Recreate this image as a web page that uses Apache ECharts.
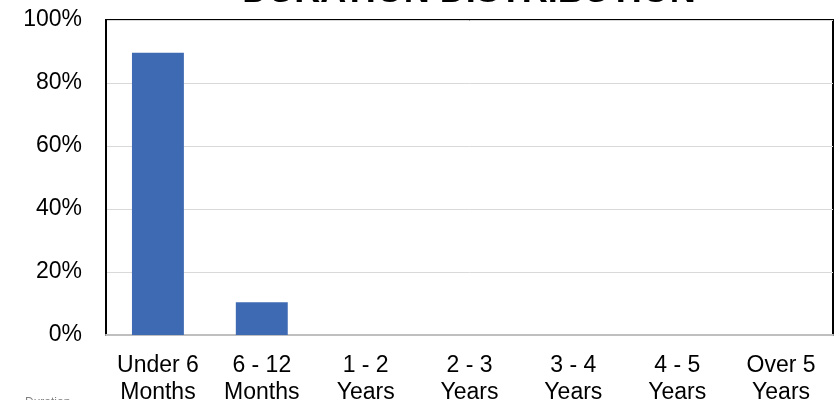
<!DOCTYPE html>
<html>
<head>
<meta charset="utf-8">
<script src="https://cdn.jsdelivr.net/npm/echarts@6/dist/echarts.min.js"></script>
<style>
  html, body { margin: 0; padding: 0; background: #fff; }
  #chart { width: 839px; height: 400px; }
</style>
</head>
<body>
<div id="chart"></div>
<script>
// Duration buckets and the share of holdings in each (percent)
const categories = ['Under 6\nMonths', '6 - 12\nMonths', '1 - 2\nYears', '2 - 3\nYears', '3 - 4\nYears', '4 - 5\nYears', 'Over 5\nYears'];
const shares = [89.6, 10.4, 0, 0, 0, 0, 0];
const titleText = 'DURATION DISTRIBUTION';
const footText = 'Duration';

const chart = echarts.init(document.getElementById('chart'), null, { renderer: 'canvas' });
const font = 'Arial, "Liberation Sans", sans-serif';

chart.setOption({
  animation: false,
  backgroundColor: '#ffffff',
  graphic: [
    {
      type: 'text',
      silent: true,
      z: 10,
      style: {
        text: titleText,
        x: 469,
        y: 10,
        align: 'center',
        verticalAlign: 'bottom',
        font: 'bold 36px ' + font,
        fill: '#000'
      }
    },
    {
      type: 'text',
      silent: true,
      style: {
        text: footText,
        x: 25,
        y: 397,
        align: 'left',
        verticalAlign: 'top',
        font: '12px ' + font,
        fill: '#808080'
      }
    }
  ],
  grid: {
    left: 106, right: 6, top: 20, bottom: 65,
    outerBoundsMode: 'none',
    containLabel: false,
    show: true,
    borderColor: '#000',
    borderWidth: 2,
    backgroundColor: 'transparent'
  },
  xAxis: {
    type: 'category',
    data: categories,
    axisLine: { show: true, lineStyle: { color: '#bfbfbf', width: 2 } },
    axisTick: { show: false },
    axisLabel: {
      color: '#000',
      fontFamily: font,
      fontSize: 23,
      lineHeight: 27,
      margin: 17,
      interval: 0
    }
  },
  yAxis: {
    type: 'value',
    min: 0,
    max: 100,
    interval: 20,
    axisLine: { show: true, lineStyle: { color: '#000', width: 2 } },
    axisTick: { show: false },
    splitLine: { show: true, lineStyle: { color: '#d9d9d9', width: 1 } },
    axisLabel: {
      formatter: '{value}%',
      color: '#000',
      fontFamily: font,
      fontSize: 23,
      margin: 24
    }
  },
  series: [{
    type: 'bar',
    data: shares,
    barWidth: '50%',
    itemStyle: { color: '#3e6ab3' }
  }]
});
</script>
</body>
</html>
